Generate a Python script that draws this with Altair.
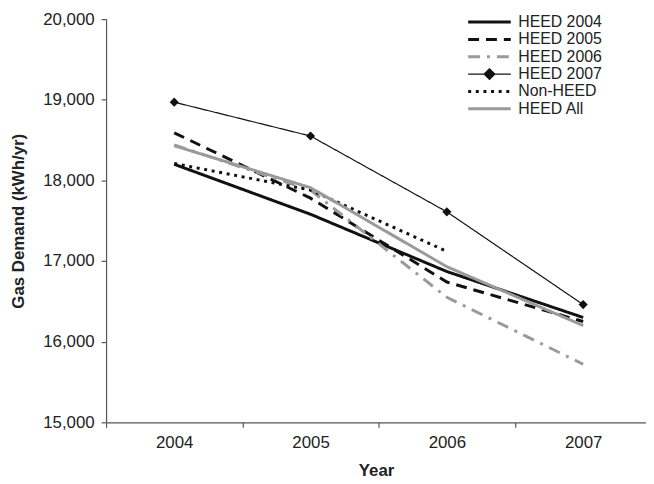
import altair as alt
import pandas as pd

years = [2004, 2005, 2006, 2007]
band_edges = [2003.5, 2004.5, 2005.5, 2006.5]
series = ["HEED 2004", "HEED 2005", "HEED 2006", "HEED 2007", "Non-HEED", "HEED All"]
heed_2004 = [18200, 17580, 16870, 16300]
heed_2005 = [18590, 17780, 16740, 16250]
heed_2006 = [18440, 17880, 16550, 15720]
heed_2007 = [18970, 18550, 17610, 16460]
non_heed = [18210, 17880, 17120, None]
heed_all = [18430, 17910, 16930, 16200]
y_ticks = [15000, 16000, 17000, 18000, 19000, 20000]

colors = ["#111111", "#111111", "#9a9a9a", "#111111", "#111111", "#9a9a9a"]
dashes = [[1, 0], [11, 7], [12, 7, 3, 7], [1, 0], [3, 4.7], [1, 0]]
widths = [3, 3, 3, 1.2, 3, 3]

rows = []
for name, vals in zip(series, [heed_2004, heed_2005, heed_2006, heed_2007, non_heed, heed_all]):
    for yr, v in zip(years, vals):
        if v is not None:
            rows.append({"Year": yr, "Series": name, "Demand": v})
df = pd.DataFrame(rows)

FONT = "Liberation Sans"
x_scale = alt.Scale(domain=[2003.5, 2007.461], nice=False, zero=False)
y_scale = alt.Scale(domain=[15000, 20000], nice=False, zero=False)

legend = alt.Legend(
    title=None, orient="none", legendX=379, legendY=-5, padding=0,
    symbolType=alt.ExprRef(expr="datum.value === 'HEED 2007' ? 'M-4,0L4,0M0,-1L1,0L0,1L-1,0Z' : 'M-4,0L4,0'"),
    symbolFillColor="#111111",
    symbolSize=115.6, labelFont=FONT, labelFontSize=16, labelColor="#222222",
    labelOffset=21, rowPadding=1.5,
)

base = alt.Chart(df)
lines = base.mark_line(strokeCap="butt").encode(
    x=alt.X("Year:Q", scale=x_scale, axis=alt.Axis(
        values=band_edges, labelExpr="format(datum.value + 0.5, 'd')", labelOffset=68.8,
        labelFlush=False, tickSize=5, labelPadding=7, title="Year", titlePadding=13,
        grid=False)),
    y=alt.Y("Demand:Q", scale=y_scale, axis=alt.Axis(
        values=y_ticks, format=",d", tickSize=5, labelPadding=7, grid=False,
        title="Gas Demand (kWh/yr)", titlePadding=15)),
    color=alt.Color("Series:N", scale=alt.Scale(domain=series, range=colors), legend=legend),
    strokeDash=alt.StrokeDash("Series:N", scale=alt.Scale(domain=series, range=dashes), legend=legend),
    strokeWidth=alt.StrokeWidth("Series:N", scale=alt.Scale(type="ordinal", domain=series, range=widths), legend=legend),
)

points = base.transform_filter(alt.datum.Series == "HEED 2007").mark_point(
    shape="diamond", filled=True, size=85, color="#111111", opacity=1
).encode(x="Year:Q", y="Demand:Q")

chart = alt.layer(lines, points).properties(
    width=545, height=407, padding={"left": 2, "top": 0, "right": 0, "bottom": 0}
).configure_view(stroke=None).configure_axis(
    domainColor="#555555", tickColor="#555555", labelFont=FONT, labelFontSize=17,
    labelColor="#222222", titleFont=FONT, titleFontSize=17, titleFontWeight="bold",
    titleColor="#222222", domainWidth=1.2, tickWidth=1.2
)

chart.save("out.html", embed_options={"renderer": "svg", "actions": False})
